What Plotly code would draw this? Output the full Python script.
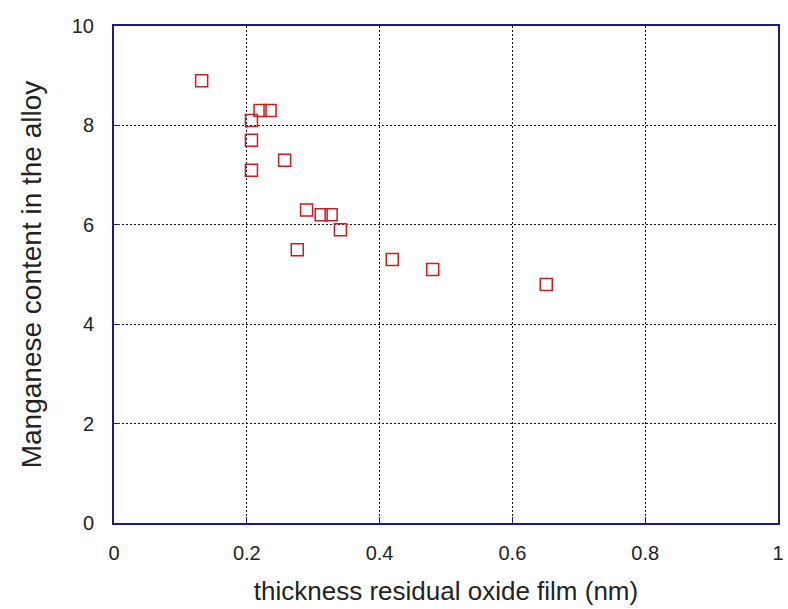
import plotly.graph_objects as go

thickness = [0.132, 0.220, 0.235, 0.207, 0.207, 0.207, 0.257, 0.290, 0.312, 0.327, 0.341, 0.276, 0.419, 0.480, 0.651]
manganese = [8.9, 8.3, 8.3, 8.1, 7.7, 7.1, 7.3, 6.3, 6.2, 6.2, 5.9, 5.5, 5.3, 5.1, 4.8]

x_ticks = [0, 0.2, 0.4, 0.6, 0.8, 1]
x_tick_text = ["0", "0.2", "0.4", "0.6", "0.8", "1"]
y_ticks = [0, 2, 4, 6, 8, 10]

navy = "#1c1c7a"
font_fam = "Liberation Sans, Arial, sans-serif"
text_col = "#222222"

fig = go.Figure()
fig.add_trace(go.Scatter(
    x=thickness, y=manganese, mode="markers",
    marker=dict(symbol="square-open", size=12, color="#c02020", line=dict(width=1.5)),
    showlegend=False,
))

axis_common = dict(
    showline=True, linecolor=navy, linewidth=2, mirror=True,
    showgrid=True, gridcolor="#111111", griddash="2px,2px", gridwidth=1,
    ticks="inside", ticklen=6, tickcolor=navy, tickwidth=1,
    zeroline=False,
    tickfont=dict(family=font_fam, size=20, color=text_col),
)

fig.update_layout(
    width=788, height=609,
    margin=dict(l=114, r=4, t=26, b=86),
    paper_bgcolor="white", plot_bgcolor="white",
    xaxis=dict(range=[0, 1], tickvals=x_ticks, ticktext=x_tick_text,
               ticklabelstandoff=11,
               title=dict(text="thickness residual oxide film (nm)",
                          font=dict(family=font_fam, size=26, color=text_col), standoff=19),
               **axis_common),
    yaxis=dict(range=[0, 10], tickvals=y_ticks,
               ticklabelstandoff=14,
               title=dict(text="Manganese content in the alloy",
                          font=dict(family=font_fam, size=28, color=text_col), standoff=22),
               **axis_common),
)

fig.write_html("out.html")
